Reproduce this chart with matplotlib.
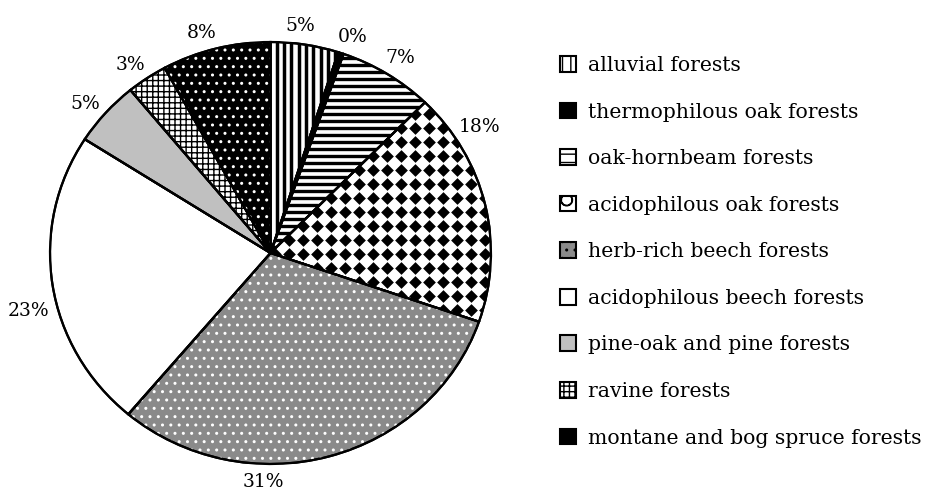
import numpy as np
import matplotlib
matplotlib.use("Agg")
import matplotlib.pyplot as plt
from matplotlib.patches import Patch, Wedge

plt.rcParams['font.family'] = ['DejaVu Serif']
plt.rcParams['hatch.linewidth'] = 1.0

# data (percent of area)
forest_types = ['alluvial forests', 'thermophilous oak forests', 'oak-hornbeam forests',
                'acidophilous oak forests', 'herb-rich beech forests',
                'acidophilous beech forests', 'pine-oak and pine forests',
                'ravine forests', 'montane and bog spruce forests']
shares = [5, 0.4, 7, 18, 31, 23, 5, 3, 8]
share_labels = ['5%', '0%', '7%', '18%', '31%', '23%', '5%', '3%', '8%']

# styling per slice
faces = ['white', 'black', 'white', 'white', '#8a8a8a', 'white', '#c0c0c0', 'white', 'black']
legend_hatch = ['||', None, '--', 'O', '..', None, None, '+++', '..']
label_shift = [-2, 1, 0, -20, 17, -6, -1, -1, -2]   # degrees, label nudges

fig = plt.figure(figsize=(9.29, 4.90), dpi=100)
ax = fig.add_axes([50 / 929, 26 / 490, 441 / 929, 422 / 490])

wedges, _ = ax.pie(shares, colors=faces, startangle=90, counterclock=False,
                   wedgeprops=dict(edgecolor='black', linewidth=1.6))
ax.set_aspect('auto')
ax.set_xlim(-1, 1)
ax.set_ylim(-1, 1)
ax.axis('off')


def texture(w, artist):
    artist.set_clip_path(w)
    artist.set_zorder(w.get_zorder() + 0.5)


# thick stripes: alluvial (vertical), oak-hornbeam (horizontal)
xs = np.arange(-1, 1, 7.3 / 220)
texture(wedges[0], ax.vlines(xs, -1, 1, color='black', linewidth=2.5))
ys = np.arange(-1, 1, 7.0 / 211)
texture(wedges[2], ax.hlines(ys, -1, 1, color='black', linewidth=2.4))

# fine grid: ravine forests
wedges[7].set_hatch('+++')

# white dots on herb-rich beech and spruce forests
for i in (4, 8):
    w = wedges[i]
    ov = Wedge(w.center, w.r, w.theta1, w.theta2, facecolor='none',
               edgecolor='white', linewidth=0, hatch='..')
    ax.add_patch(ov)

# black diamonds: acidophilous oak forests
gx, gy = np.meshgrid(np.arange(-1, 1, 14 / 220), np.arange(-1, 1, 14 / 211))
texture(wedges[3], ax.scatter(gx.ravel(), gy.ravel(), marker='D', s=42,
                              color='black', linewidths=0))

# redraw the outlines above the textures
for w in wedges:
    ax.add_patch(Wedge(w.center, w.r, w.theta1, w.theta2, facecolor='none',
                       edgecolor='black', linewidth=1.6, zorder=w.get_zorder() + 1))

# percentage labels just outside the rim
total = sum(shares)
start = 0
for v, lab, sh in zip(shares, share_labels, label_shift):
    mid = np.deg2rad((start + v / 2) / total * 360 + sh)
    sx, cy = np.sin(mid), np.cos(mid)
    hw = 4 * len(lab) + 3
    ax.annotate(lab, xy=(1.04 * sx, 1.04 * cy), xytext=(hw * sx, 7 * cy),
                textcoords='offset points', ha='center', va='center', fontsize=13.5,
                annotation_clip=False)
    start += v

# legend
handles = [Patch(facecolor=f, edgecolor='black', linewidth=1.5, hatch=h)
           for f, h in zip(faces, legend_hatch)]
fig.legend(handles, forest_types, loc='upper left', bbox_to_anchor=(560 / 929, 1 - 56 / 490),
           frameon=False, fontsize=14.7, borderpad=0, borderaxespad=0,
           handlelength=0.8, handleheight=0.8, handletextpad=0.55, labelspacing=1.35)

plt.savefig('out.png', dpi=100)
